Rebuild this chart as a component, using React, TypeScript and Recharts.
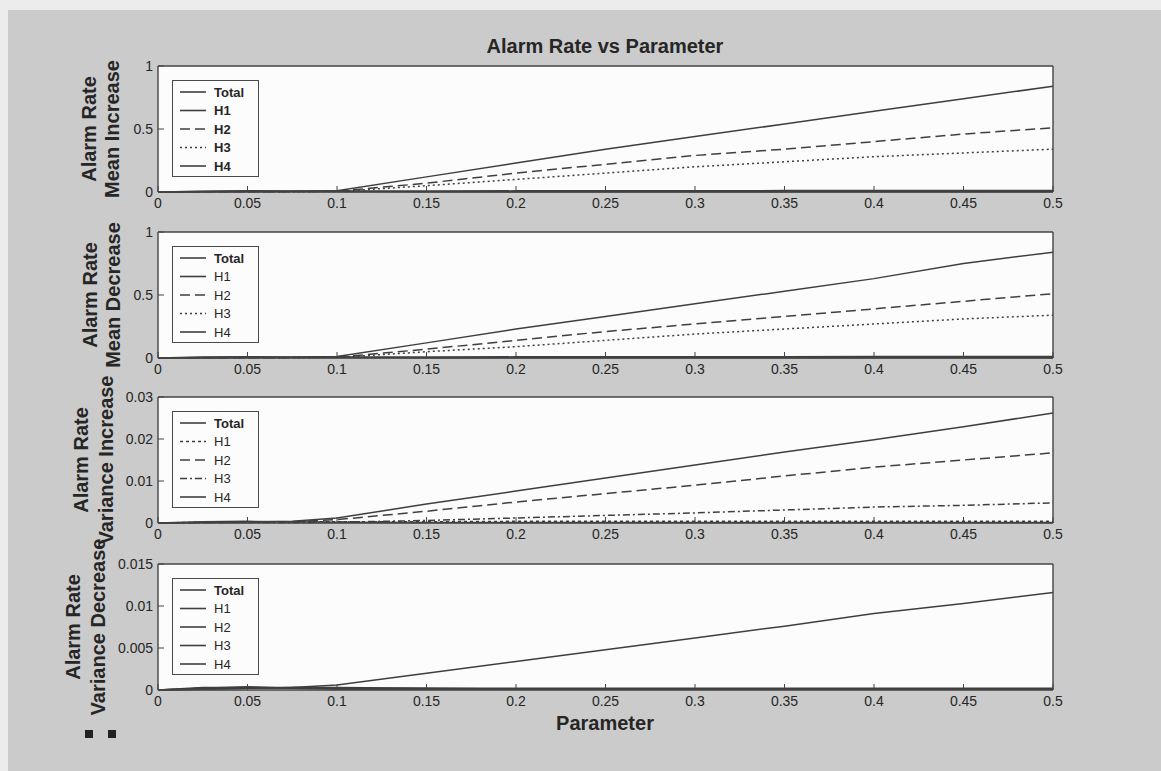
import React from 'react';
import { LineChart, Line, XAxis, YAxis, CartesianGrid, Legend } from 'recharts';

// ---- data ----
const PARAM = [0, 0.025, 0.05, 0.075, 0.1, 0.15, 0.2, 0.25, 0.3, 0.35, 0.4, 0.45, 0.5];
const X_TICKS = [0, 0.05, 0.1, 0.15, 0.2, 0.25, 0.3, 0.35, 0.4, 0.45, 0.5];
const SERIES = ['Total', 'H1', 'H2', 'H3', 'H4'];

// Mean Increase
const meanIncTotal = [0, 0.001, 0.003, 0.005, 0.01, 0.12, 0.23, 0.34, 0.44, 0.54, 0.64, 0.74, 0.84];
const meanIncH1 = [0, 0.004, 0.006, 0.006, 0.007, 0.008, 0.009, 0.01, 0.01, 0.011, 0.011, 0.012, 0.012];
const meanIncH2 = [0, 0.001, 0.002, 0.003, 0.006, 0.07, 0.15, 0.22, 0.29, 0.34, 0.4, 0.46, 0.51];
const meanIncH3 = [0, 0.001, 0.001, 0.002, 0.004, 0.05, 0.1, 0.15, 0.2, 0.24, 0.28, 0.31, 0.34];
const meanIncH4 = [0, 0.006, 0.01, 0.006, 0.003, 0.002, 0.002, 0.001, 0.001, 0.001, 0.001, 0.001, 0.001];

// Mean Decrease
const meanDecTotal = [0, 0.001, 0.003, 0.006, 0.012, 0.12, 0.23, 0.33, 0.43, 0.53, 0.63, 0.75, 0.84];
const meanDecH1 = [0, 0.003, 0.005, 0.006, 0.007, 0.008, 0.009, 0.009, 0.01, 0.01, 0.011, 0.011, 0.012];
const meanDecH2 = [0, 0.001, 0.002, 0.003, 0.006, 0.07, 0.14, 0.21, 0.27, 0.33, 0.39, 0.45, 0.51];
const meanDecH3 = [0, 0.001, 0.001, 0.002, 0.004, 0.05, 0.09, 0.14, 0.19, 0.23, 0.27, 0.31, 0.34];
const meanDecH4 = [0, 0.007, 0.01, 0.006, 0.003, 0.002, 0.002, 0.001, 0.001, 0.001, 0.001, 0.001, 0.001];

// Variance Increase
const varIncTotal = [0, 0.0001, 0.0002, 0.0004, 0.0012, 0.0045, 0.0076, 0.0107, 0.0138, 0.0169, 0.0198, 0.0229, 0.0262];
const varIncH1 = [0, 0.0002, 0.0003, 0.0003, 0.0003, 0.0003, 0.0004, 0.0004, 0.0004, 0.0004, 0.0004, 0.0004, 0.0004];
const varIncH2 = [0, 0.0001, 0.0002, 0.0003, 0.0008, 0.0028, 0.005, 0.007, 0.009, 0.0112, 0.0133, 0.015, 0.0167];
const varIncH3 = [0, 0.0001, 0.0001, 0.0001, 0.0002, 0.0006, 0.0012, 0.0018, 0.0024, 0.0031, 0.0038, 0.0042, 0.0048];
const varIncH4 = [0, 0.0003, 0.0004, 0.0003, 0.0002, 0.0001, 0.0001, 0.0001, 0.0001, 0.0001, 0.0001, 0.0001, 0.0001];

// Variance Decrease
const varDecTotal = [0, 0.0001, 0.0002, 0.0003, 0.0006, 0.002, 0.0034, 0.0048, 0.0062, 0.0076, 0.0091, 0.0103, 0.0116];
const varDecH1 = [0, 0.0001, 0.0002, 0.0003, 0.0003, 0.0002, 0.0002, 0.0002, 0.0002, 0.0002, 0.0002, 0.0002, 0.0002];
const varDecH2 = [0, 0.0002, 0.0003, 0.0003, 0.0002, 0.0002, 0.0001, 0.0001, 0.0001, 0.0001, 0.0001, 0.0001, 0.0001];
const varDecH3 = [0, 0.0003, 0.0003, 0.0002, 0.0002, 0.0001, 0.0001, 0.0001, 0.0001, 0.0001, 0.0001, 0.0001, 0.0001];
const varDecH4 = [0, 0.0002, 0.0004, 0.0002, 0.0001, 0.0001, 0.0001, 0.0001, 0.0001, 0.0001, 0.0001, 0.0001, 0.0001];

const Y_TICKS_MEAN = [0, 0.5, 1];
const Y_TICKS_VARINC = [0, 0.01, 0.02, 0.03];
const Y_TICKS_VARDEC = [0, 0.005, 0.01, 0.015];

const TITLE = 'Alarm Rate vs Parameter';
const X_LABEL = 'Parameter';

// ---- styling ----
const FONT = '"Liberation Sans", Arial, Helvetica, sans-serif';
const INK = '#262626';
const LINE = '#3f3f3f';
const BG = '#cbcbcb';
const PLOT_BG = '#fcfcfc';

const SOLID = '0';
const DASHED = '10 5';
const DOTTED = '2 3';
const SHORT = '3 3';
const DASHDOT = '7 3 2 3';

function build(cols: number[][]) {
  return PARAM.map((x, i) => {
    const row: any = { x };
    SERIES.forEach((s, k) => (row[s] = cols[k][i]));
    return row;
  });
}

const PLOT_H = 126;
const PAD_TOP = 20;
const AX_H = 40;

function LegendBox({ dashes, boldAll }: { dashes: string[]; boldAll: boolean }) {
  return (
    <div
      style={{
        width: 85,
        height: 95,
        border: '1.5px solid #4a4a4a',
        background: PLOT_BG,
        position: 'relative',
        fontFamily: FONT,
      }}
    >
      <svg width={85} height={95} style={{ position: 'absolute', left: 0, top: 0 }}>
        {SERIES.map((s, i) => {
          const y = 11 + i * 18.5;
          return (
            <g key={s}>
              <line x1={7} x2={33} y1={y} y2={y} stroke={LINE} strokeWidth={1.6} strokeDasharray={dashes[i]} />
              <text
                x={41}
                y={y}
                dominantBaseline="central"
                fontSize={13}
                fontWeight={boldAll || i === 0 ? 'bold' : 'normal'}
                fill={INK}
                fontFamily={FONT}
              >
                {s}
              </text>
            </g>
          );
        })}
      </svg>
    </div>
  );
}

function Subplot({
  top,
  cols,
  yMax,
  yTicks,
  dashes,
  boldLegend,
}: {
  top: number;
  cols: number[][];
  yMax: number;
  yTicks: number[];
  dashes: string[];
  boldLegend: boolean;
}) {
  const data = build(cols);
  const tickStyle = { fill: INK, fontSize: 14, fontFamily: FONT };
  return (
    <div style={{ position: 'absolute', left: 0, top: top - PAD_TOP }}>
      <LineChart
        width={1161}
        height={PAD_TOP + PLOT_H + AX_H}
        data={data}
        margin={{ top: PAD_TOP - 1, right: 100, bottom: 0, left: 0 }}
      >
        <CartesianGrid xAxisId="b" yAxisId="l" fill={PLOT_BG} horizontal={false} vertical={false} />
        <XAxis
          xAxisId="b"
          dataKey="x"
          type="number"
          domain={[0, 0.5]}
          ticks={X_TICKS}
          interval={0}
          height={AX_H}
          tickSize={-6}
          tickMargin={12}
          tick={tickStyle}
          tickFormatter={(v: number) => String(v)}
          axisLine={{ stroke: '#444', strokeWidth: 1.4 }}
          tickLine={{ stroke: '#444' }}
        />
        <XAxis
          xAxisId="t"
          orientation="top"
          dataKey="x"
          type="number"
          domain={[0, 0.5]}
          ticks={X_TICKS}
          interval={0}
          height={1}
          tickSize={-6}
          tick={false}
          axisLine={{ stroke: '#444', strokeWidth: 1.4 }}
          tickLine={{ stroke: '#444' }}
        />
        <YAxis
          yAxisId="l"
          type="number"
          domain={[0, yMax]}
          ticks={yTicks}
          interval={0}
          width={158}
          tickSize={-6}
          tickMargin={11}
          tick={tickStyle}
          tickFormatter={(v: number) => String(v)}
          axisLine={{ stroke: '#444', strokeWidth: 1.4 }}
          tickLine={{ stroke: '#444' }}
        />
        <YAxis
          yAxisId="r"
          orientation="right"
          type="number"
          domain={[0, yMax]}
          ticks={yTicks}
          interval={0}
          width={8}
          tickSize={-6}
          tick={false}
          axisLine={{ stroke: '#444', strokeWidth: 1.4 }}
          tickLine={{ stroke: '#444' }}
        />
        {SERIES.map((s, i) => (
          <Line
            key={s}
            xAxisId="b"
            yAxisId="l"
            dataKey={s}
            type="linear"
            stroke={LINE}
            strokeWidth={1.5}
            strokeDasharray={dashes[i]}
            dot={false}
            activeDot={false}
            isAnimationActive={false}
          />
        ))}
        <Legend
          layout="horizontal"
          verticalAlign="middle"
          align="center"
          wrapperStyle={{ left: 172, top: PAD_TOP + 14, width: 88, height: 98 }}
          content={() => <LegendBox dashes={dashes} boldAll={boldLegend} />}
        />
      </LineChart>
    </div>
  );
}

const PLOTS = [
  {
    top: 66,
    cols: [meanIncTotal, meanIncH1, meanIncH2, meanIncH3, meanIncH4],
    yMax: 1,
    yTicks: Y_TICKS_MEAN,
    dashes: [SOLID, SOLID, DASHED, DOTTED, SOLID],
    label: ['Alarm Rate', 'Mean Increase'],
    lx: [89, 112],
    boldLegend: true,
  },
  {
    top: 232,
    cols: [meanDecTotal, meanDecH1, meanDecH2, meanDecH3, meanDecH4],
    yMax: 1,
    yTicks: Y_TICKS_MEAN,
    dashes: [SOLID, SOLID, DASHED, DOTTED, SOLID],
    label: ['Alarm Rate', 'Mean Decrease'],
    lx: [90, 113],
    boldLegend: false,
  },
  {
    top: 397,
    cols: [varIncTotal, varIncH1, varIncH2, varIncH3, varIncH4],
    yMax: 0.03,
    yTicks: Y_TICKS_VARINC,
    dashes: [SOLID, SHORT, DASHED, DASHDOT, SOLID],
    label: ['Alarm Rate', 'Variance Increase'],
    lx: [81, 106],
    boldLegend: false,
  },
  {
    top: 564,
    cols: [varDecTotal, varDecH1, varDecH2, varDecH3, varDecH4],
    yMax: 0.015,
    yTicks: Y_TICKS_VARDEC,
    dashes: [SOLID, SOLID, SOLID, SOLID, SOLID],
    label: ['Alarm Rate', 'Variance Decrease'],
    lx: [73, 98],
    boldLegend: false,
  },
];

export default function App() {
  return (
    <div style={{ position: 'absolute', left: 0, top: 0, width: 1161, height: 771, background: '#ececec', overflow: 'hidden' }}>
      <div style={{ position: 'absolute', left: 8, top: 10, width: 1153, height: 761, background: BG }} />
      {PLOTS.map((p, i) => (
        <Subplot
          key={i}
          top={p.top}
          cols={p.cols}
          yMax={p.yMax}
          yTicks={p.yTicks}
          dashes={p.dashes}
          boldLegend={p.boldLegend}
        />
      ))}
      <svg width={1161} height={771} style={{ position: 'absolute', left: 0, top: 0, pointerEvents: 'none' }}>
        <text x={605} y={46} textAnchor="middle" dominantBaseline="central" fontSize={20} fontWeight="bold" fontFamily={FONT} fill={INK}>
          {TITLE}
        </text>
        <text x={605} y={723} textAnchor="middle" dominantBaseline="central" fontSize={20} fontWeight="bold" fontFamily={FONT} fill={INK}>
          {X_LABEL}
        </text>
        {PLOTS.map((p, i) => {
          const cy = p.top + PLOT_H / 2;
          return (
            <g key={i}>
              {p.label.map((t, k) => (
                <text
                  key={k}
                  x={p.lx[k]}
                  y={cy}
                  transform={`rotate(-90 ${p.lx[k]} ${cy})`}
                  textAnchor="middle"
                  dominantBaseline="central"
                  fontSize={20}
                  fontWeight="bold"
                  fontFamily={FONT}
                  fill={INK}
                >
                  {t}
                </text>
              ))}
            </g>
          );
        })}
        <rect x={85} y={730} width={8} height={8} fill="#222" />
        <rect x={108} y={730} width={8} height={8} fill="#222" />
      </svg>
    </div>
  );
}
